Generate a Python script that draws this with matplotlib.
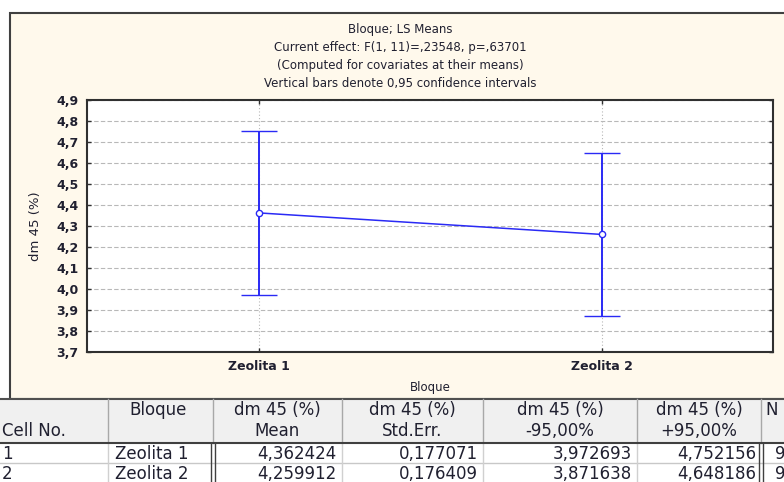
import matplotlib
matplotlib.use("Agg")
from matplotlib import pyplot as plt
from matplotlib.patches import Rectangle
from matplotlib.lines import Line2D
from matplotlib.ticker import FuncFormatter, MultipleLocator
import numpy as np

# LS means per block
groups = ["Zeolita 1", "Zeolita 2"]
means = np.array([4.362424, 4.259912])
std_err = np.array([0.177071, 0.176409])
lower = np.array([3.972693, 3.871638])
upper = np.array([4.752156, 4.648186])
n_obs = ["9", "9"]

title_lines = [
    "Bloque; LS Means",
    "Current effect: F(1, 11)=,23548, p=,63701",
    "(Computed for covariates at their means)",
    "Vertical bars denote 0,95 confidence intervals",
]

W, H = 784, 482
fig = plt.figure(figsize=(W / 100, H / 100), dpi=100)
fig.patch.set_facecolor("white")

def fx(px):
    return px / W

def fy(py):
    return 1 - py / H

ink = "#202030"
blue = "#2A2AF5"

# cream panel behind the graph
panel = Rectangle((fx(10), fy(399)), fx(800), fy(13) - fy(399), transform=fig.transFigure,
                  facecolor="#FFF9EC", edgecolor="#404040", lw=1.5, zorder=-10)
fig.patches.append(panel)

ax = fig.add_axes([fx(87), fy(352), fx(773) - fx(87), fy(100) - fy(352)])
ax.set_facecolor("white")

x = np.arange(1, len(groups) + 1)
ax.errorbar(x, means, yerr=[means - lower, upper - means], fmt="-o", color=blue,
            lw=1.1, elinewidth=1.4, capsize=13, capthick=1.4,
            ms=4.5, mfc="white", mec=blue, mew=1.0, zorder=3)

ax.set_xlim(0.5, 2.5)
ax.set_ylim(3.7, 4.9)
ax.set_xticks(x)
ax.set_xticklabels(groups)
ax.yaxis.set_major_locator(MultipleLocator(0.1))
ax.yaxis.set_major_formatter(FuncFormatter(lambda v, p: f"{v:.1f}".replace(".", ",")))

ax.grid(axis="y", color="#B8B8B8", lw=0.8, linestyle=(0, (4, 2)))
ax.grid(axis="x", color="#B8B8B8", lw=0.8, linestyle=(0, (1, 2)))
ax.set_axisbelow(True)

for s in ax.spines.values():
    s.set_color("#303030")
    s.set_linewidth(1.5)

ax.tick_params(direction="in", length=3, width=1, top=True, right=True,
               colors="#303030", labelcolor=ink, pad=6)
for lab in ax.get_yticklabels():
    lab.set_fontsize(9)
    lab.set_fontweight("bold")
for lab in ax.get_xticklabels():
    lab.set_fontsize(9)
    lab.set_fontweight("bold")

ax.set_xlabel("Bloque", fontsize=8.5, color=ink)
ax.xaxis.set_label_coords(0.5, -0.115)
ax.set_ylabel("dm 45 (%)", fontsize=9.5, color=ink)
ax.yaxis.set_label_coords(-0.066, 0.5)

for i, line in enumerate(title_lines):
    fig.text(fx(400), fy(30 + i * 17.7), line, ha="center", va="center",
             fontsize=8.5, color=ink)

# results table under the graph
cols = [0, 108, 213, 342, 483, 637, 761, 800]
head_top, head_bot, row_h = 399, 443, 20

fig.patches.append(Rectangle((0, fy(head_bot)), 1, fy(head_top) - fy(head_bot),
                             transform=fig.transFigure, facecolor="#F0F0F0",
                             edgecolor="none", zorder=-5))
fig.patches.append(Rectangle((0, 0), 1, fy(head_bot), transform=fig.transFigure,
                             facecolor="white", edgecolor="none", zorder=-5))

def hline(py, x0, x1, color, lw):
    fig.lines.append(Line2D([fx(x0), fx(x1)], [fy(py), fy(py)], transform=fig.transFigure,
                            color=color, lw=lw))

def vline(px, y0, y1, color, lw):
    fig.lines.append(Line2D([fx(px), fx(px)], [fy(y0), fy(y1)], transform=fig.transFigure,
                            color=color, lw=lw))

hline(head_top, 0, 800, "#505050", 1.5)
for c in cols[1:-1]:
    vline(c, head_top, head_bot, "#A8A8A8", 1.0)
for r in range(1, 3):
    hline(head_bot + r * row_h, 0, 800, "#C8C8C8", 1.0)
for c in [108, 342, 483, 637]:
    vline(c, head_bot, H, "#D0D0D0", 1.0)
for c in [211, 215, 759, 763]:
    vline(c, head_bot, H, "#404040", 1.0)
hline(head_bot, 0, 800, "#404040", 1.5)

tfs = 12
line1, line2 = 410, 431
fig.text(fx(2), fy(line2), "Cell No.", ha="left", va="center", fontsize=tfs, color=ink)
fig.text(fx(158), fy(line1), "Bloque", ha="center", va="center", fontsize=tfs, color=ink)
sub_heads = ["Mean", "Std.Err.", "-95,00%", "+95,00%"]
for k, sub in enumerate(sub_heads):
    cx = (cols[2 + k] + cols[3 + k]) / 2
    fig.text(fx(cx), fy(line1), "dm 45 (%)", ha="center", va="center", fontsize=tfs, color=ink)
    fig.text(fx(cx), fy(line2), sub, ha="center", va="center", fontsize=tfs, color=ink)
fig.text(fx(765), fy(line1), "N", ha="left", va="center", fontsize=tfs, color=ink)

def fmt(v):
    return f"{v:.6f}".replace(".", ",")

for r in range(len(groups)):
    yc = head_bot + row_h * r + row_h / 2 + 1
    fig.text(fx(2), fy(yc), str(r + 1), ha="left", va="center", fontsize=tfs, color=ink)
    fig.text(fx(115), fy(yc), groups[r], ha="left", va="center", fontsize=tfs, color=ink)
    for k, arr in enumerate([means, std_err, lower, upper]):
        fig.text(fx(cols[3 + k] - 5), fy(yc), fmt(arr[r]), ha="right", va="center",
                 fontsize=tfs, color=ink)
    fig.text(fx(775), fy(yc), n_obs[r], ha="left", va="center", fontsize=tfs, color=ink)

fig.savefig("out.png", dpi=100)
